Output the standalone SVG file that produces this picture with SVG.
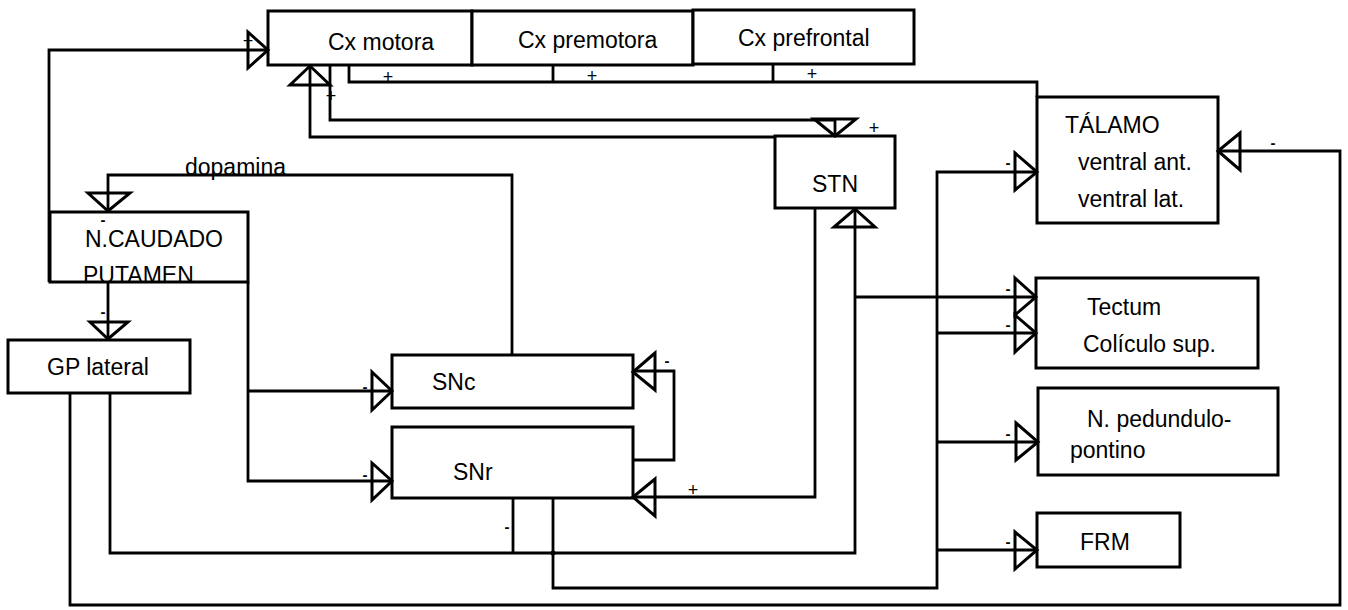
<svg xmlns="http://www.w3.org/2000/svg" width="1348" height="610" viewBox="0 0 1348 610">
<style>
.box{fill:#fff;stroke:#000;stroke-width:3}
.ln{fill:none;stroke:#000;stroke-width:2.8;stroke-linejoin:miter}
.ah{fill:none;stroke:#000;stroke-width:3;stroke-linejoin:miter}
.t{font-family:"Liberation Sans",Arial,sans-serif;font-size:23px;fill:#000}
.s{font-family:"Liberation Sans",Arial,sans-serif;font-size:15px;font-weight:bold;fill:#000;text-anchor:middle}
.p{font-family:"Liberation Sans",Arial,sans-serif;font-size:18px;fill:#000;text-anchor:middle}
</style>
<rect width="1348" height="610" fill="#fff"/>
<g id="nodes">
  <g id="cx-motora"><rect class="box" x="268" y="11" width="204" height="54"/><text class="t" x="328" y="50">Cx motora</text></g>
  <g id="cx-premotora"><rect class="box" x="472" y="11" width="221" height="54"/><text class="t" x="518" y="48">Cx premotora</text></g>
  <g id="cx-prefrontal"><rect class="box" x="693" y="10" width="221" height="54"/><text class="t" x="738" y="46">Cx prefrontal</text></g>
  <g id="stn"><rect class="box" x="775" y="136" width="120" height="72"/><text class="t" x="812" y="192">STN</text></g>
  <g id="talamo"><rect class="box" x="1037" y="97" width="181" height="126"/><text class="t" x="1065" y="133">TÁLAMO</text><text class="t" x="1078" y="170">ventral ant.</text><text class="t" x="1078" y="207">ventral lat.</text></g>
  <g id="caudado"><rect class="box" x="50" y="212" width="198" height="70"/><text class="t" x="85" y="247">N.CAUDADO</text><text class="t" x="83" y="283">PUTAMEN</text></g>
  <g id="gp-lateral"><rect class="box" x="8" y="340" width="182" height="53"/><text class="t" x="47" y="375">GP lateral</text></g>
  <g id="snc"><rect class="box" x="392" y="355" width="241" height="53"/><text class="t" x="432" y="390">SNc</text></g>
  <g id="snr"><rect class="box" x="392" y="427" width="241" height="71"/><text class="t" x="453" y="480">SNr</text></g>
  <g id="tectum"><rect class="box" x="1036" y="278" width="222" height="90"/><text class="t" x="1087" y="315">Tectum</text><text class="t" x="1083" y="352">Colículo sup.</text></g>
  <g id="ppn"><rect class="box" x="1038" y="388" width="240" height="87"/><text class="t" x="1087" y="427">N. pedundulo-</text><text class="t" x="1070" y="458">pontino</text></g>
  <g id="frm"><rect class="box" x="1037" y="513" width="143" height="54"/><text class="t" x="1080" y="550">FRM</text></g>
</g>
<g id="connectors">
  <polyline class="ln" points="49,282 49,50 268,50"/>
  <polygon class="ah" points="248,32 268,50 248,68"/>
  <text class="p" x="248" y="47">+</text>
  <polyline class="ln" points="330,65 330,120 835,120 835,136"/>
  <polygon class="ah" points="814,119 856,119 835,136"/>
  <text class="p" x="331" y="102">+</text>
  <text class="p" x="874" y="134">+</text>
  <polyline class="ln" points="775,137 310,137 310,66"/>
  <polygon class="ah" points="290,85 330,85 310,66"/>
  <polyline class="ln" points="349,65 349,82 1037,82 1037,97"/>
  <line class="ln" x1="553" y1="65" x2="553" y2="82"/>
  <line class="ln" x1="773" y1="64" x2="773" y2="82"/>
  <text class="p" x="388" y="83">+</text>
  <text class="p" x="592" y="82">+</text>
  <text class="p" x="812" y="80">+</text>
  <polyline class="ln" points="512,355 512,175 108,175 108,212"/>
  <polygon class="ah" points="88,193 130,193 108,211"/>
  <text class="t" x="185" y="175">dopamina</text>
  <text class="s" x="103" y="225">-</text>
  <line class="ln" x1="108" y1="282" x2="108" y2="340"/>
  <polygon class="ah" points="90,322 128,322 108,339"/>
  <text class="s" x="103" y="317">-</text>
  <polyline class="ln" points="248,282 248,481 392,481"/>
  <line class="ln" x1="248" y1="391" x2="392" y2="391"/>
  <polygon class="ah" points="372,372 392,391 372,410"/>
  <polygon class="ah" points="372,463 392,481 372,500"/>
  <text class="s" x="365" y="392">-</text>
  <text class="s" x="365" y="480">-</text>
  <polyline class="ln" points="815,208 815,497 633,497"/>
  <polygon class="ah" points="655,479 633,497 655,516"/>
  <text class="p" x="693" y="496">+</text>
  <polyline class="ln" points="633,460 674,460 674,371 633,371"/>
  <polygon class="ah" points="655,353 633,372 655,390"/>
  <text class="s" x="667" y="366">-</text>
  <polyline class="ln" points="110,393 110,553 855,553 855,209"/>
  <polygon class="ah" points="834,227 875,227 855,209"/>
  <line class="ln" x1="513" y1="498" x2="513" y2="553"/>
  <text class="s" x="507" y="532">-</text>
  <line class="ln" x1="855" y1="297" x2="1036" y2="297"/>
  <polygon class="ah" points="1015,278 1036,297 1015,315"/>
  <text class="s" x="1008" y="294">-</text>
  <polyline class="ln" points="553,498 553,588 937,588 937,172 1037,172"/>
  <circle cx="553" cy="553" r="2.5" fill="#000"/>
  <polygon class="ah" points="1015,153 1037,172 1015,190"/>
  <text class="s" x="1008" y="168">-</text>
  <line class="ln" x1="937" y1="333" x2="1036" y2="333"/>
  <polygon class="ah" points="1015,315 1036,333 1015,352"/>
  <text class="s" x="1008" y="330">-</text>
  <line class="ln" x1="937" y1="442" x2="1038" y2="442"/>
  <polygon class="ah" points="1016,423 1038,442 1016,460"/>
  <text class="s" x="1008" y="439">-</text>
  <line class="ln" x1="937" y1="550" x2="1037" y2="550"/>
  <polygon class="ah" points="1015,532 1037,550 1015,569"/>
  <text class="s" x="1008" y="547">-</text>
  <polyline class="ln" points="70,393 70,605 1340,605 1340,151 1218,151"/>
  <polygon class="ah" points="1240,133 1218,151 1240,170"/>
  <text class="s" x="1273" y="148">-</text>
</g>
</svg>
